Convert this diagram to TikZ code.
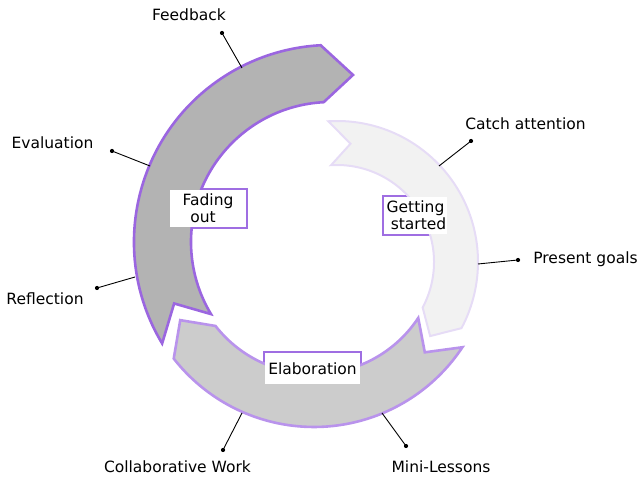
\documentclass[tikz,border=0pt]{standalone}
\usepackage{fontspec}
\setmainfont{DejaVu Sans}
\definecolor{purpA}{HTML}{9B66E0}
\definecolor{purpB}{HTML}{B993EC}
\definecolor{purpC}{HTML}{E6DCF6}
\definecolor{purpBox}{HTML}{9F6EE2}
\definecolor{fillA}{HTML}{B3B3B3}
\definecolor{fillB}{HTML}{CCCCCC}
\definecolor{fillC}{HTML}{F2F2F2}
\tikzset{
  lbl/.style={font=\fontsize{15.5}{17.5}\selectfont, inner sep=0pt, anchor=base},
  boxframe/.style={draw=purpBox, line width=1.3pt, fill=white, inner sep=0pt},
  boxtext/.style={fill=white, inner sep=0pt, align=center, font=\fontsize{15.5}{17}\selectfont},
  dotnode/.style={circle, fill=black, inner sep=0pt, minimum size=4.2pt},
  callout/.style={draw=black, line width=0.9pt},
  arrowA/.style={fill=fillA, draw=purpA, line width=2.6pt},
  arrowB/.style={fill=fillB, draw=purpB, line width=2.6pt},
  arrowC/.style={fill=fillC, draw=purpC, line width=2pt}
}
\begin{document}
\begin{tikzpicture}[x=1pt,y=1pt]
\useasboundingbox (0,0) rectangle (639,476);

% label box frames (drawn beneath the arrows)
\node[boxframe, minimum width=78pt, minimum height=39pt] (fadebox) at (208,267.5) {};
\node[boxframe, minimum width=65pt, minimum height=39pt] (getbox) at (415.5,260.5) {};
\node[boxframe, minimum width=97pt, minimum height=33pt] (elabox) at (312.5,107.5) {};

% Getting started arrow
\begin{scope}[shift={(337,214)}]
\path[arrowC] (93.5:141pt) arc[start angle=93.5, end angle=-28, radius=141pt]
  -- (-38.5:119pt) -- (-28:97pt) arc[start angle=-28, end angle=93.5, radius=97pt]
  -- (83.5:119pt) -- cycle;
\end{scope}

% Elaboration arrow
\begin{scope}[shift={(314,227)}]
\path[arrowB] (-33.5:178pt) arc[start angle=-33.5, end angle=-142, radius=178pt]
  -- (-152:151.5pt) -- (-142:125pt) arc[start angle=-142, end angle=-33.5, radius=125pt]
  -- (-43:151.5pt) -- cycle;
\end{scope}

% Fading out arrow
\begin{scope}[shift={(331,234)}]
\path[arrowA] (211:197pt) arc[start angle=211, end angle=93, radius=197pt]
  -- (82.5:168.5pt) -- (93:140pt) arc[start angle=93, end angle=211, radius=140pt]
  -- (201.4:168.5pt) -- cycle;
\end{scope}

% label texts on white
\node[boxtext, minimum width=76.7pt, minimum height=37.7pt] (fadetxt) at (fadebox.center) {Fading\\out\kern10pt};
\node[boxtext, minimum width=63.7pt, minimum height=37.7pt] (gettxt) at (getbox.center) {Getting\\\kern6pt started};
\node[boxtext, minimum width=95.7pt, minimum height=31.7pt] (elatxt) at (elabox.center) {Elaboration};

% callouts
\node[lbl] (tFeed) at (189,455) {Feedback};
\node[dotnode] (dFeed) at (222,443) {};
\coordinate (eFeed) at (242,408);
\draw[callout] (dFeed.center) -- (eFeed);

\node[lbl] (tEval) at (52.5,327) {Evaluation};
\node[dotnode] (dEval) at (112,325) {};
\coordinate (eEval) at (150,310);
\draw[callout] (dEval.center) -- (eEval);

\node[lbl] (tRefl) at (45,171) {Reflection};
\node[dotnode] (dRefl) at (97,188) {};
\coordinate (eRefl) at (135,199);
\draw[callout] (dRefl.center) -- (eRefl);

\node[lbl] (tCatch) at (525.5,346) {Catch attention};
\node[dotnode] (dCatch) at (471,335) {};
\coordinate (eCatch) at (439,310);
\draw[callout] (dCatch.center) -- (eCatch);

\node[lbl] (tGoal) at (585.5,212) {Present goals};
\node[dotnode] (dGoal) at (518,216) {};
\coordinate (eGoal) at (478,212);
\draw[callout] (dGoal.center) -- (eGoal);

\node[lbl] (tColl) at (177.5,4) {Collaborative Work};
\node[dotnode] (dColl) at (223,26) {};
\coordinate (eColl) at (242,63);
\draw[callout] (dColl.center) -- (eColl);

\node[lbl] (tMini) at (441,4) {Mini-Lessons};
\node[dotnode] (dMini) at (406,30) {};
\coordinate (eMini) at (382,63);
\draw[callout] (dMini.center) -- (eMini);
\end{tikzpicture}
\end{document}
